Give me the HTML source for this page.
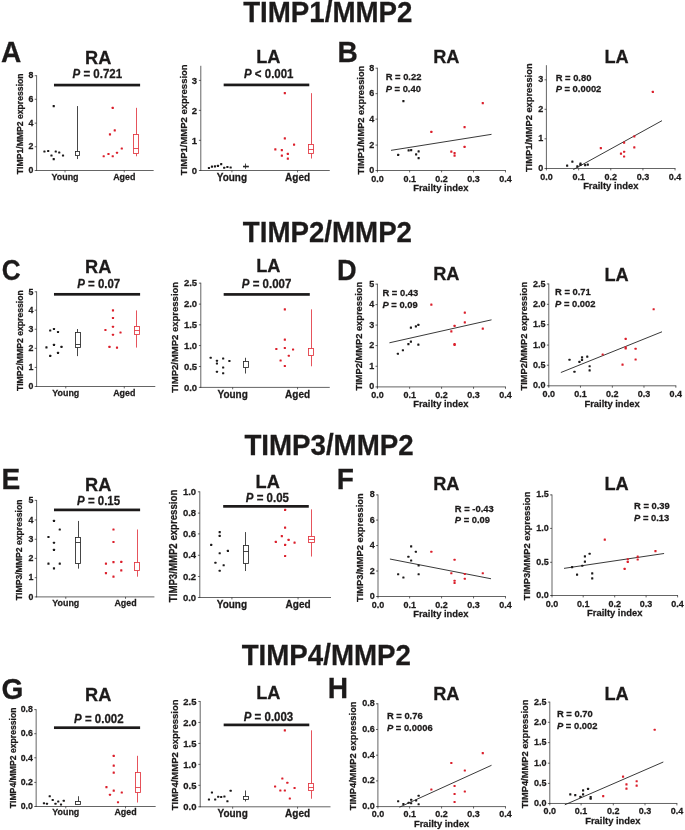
<!DOCTYPE html>
<html><head><meta charset="utf-8"><title>TIMP/MMP2 figure</title>
<style>
html,body{margin:0;padding:0;background:#fff;}
body{width:685px;height:830px;overflow:hidden;}
svg{display:block;font-family:"Liberation Sans",sans-serif;will-change:transform;}
text{font-weight:bold;stroke:#1c1a1a;stroke-width:0.26px;paint-order:stroke fill;}
</style></head><body>
<svg width="685" height="830" viewBox="0 0 685 830">
<rect width="685" height="830" fill="#ffffff"/>
<text transform="translate(327.8 21.9) scale(0.9615 1)" font-size="28.81" text-anchor="middle" fill="#1c1a1a">TIMP1/MMP2</text>
<text transform="translate(327.4 242.1) scale(0.9615 1)" font-size="28.81" text-anchor="middle" fill="#1c1a1a">TIMP2/MMP2</text>
<text transform="translate(329 454.9) scale(0.9615 1)" font-size="28.81" text-anchor="middle" fill="#1c1a1a">TIMP3/MMP2</text>
<text transform="translate(326.3 665.2) scale(0.9615 1)" font-size="28.81" text-anchor="middle" fill="#1c1a1a">TIMP4/MMP2</text>
<text transform="translate(0.9 62) scale(0.9615 1)" font-size="29.22" text-anchor="start" fill="#1c1a1a">A</text>
<text transform="translate(337.6 61.8) scale(0.9615 1)" font-size="29.22" text-anchor="start" fill="#1c1a1a">B</text>
<text transform="translate(1.7 279.8) scale(0.8950 1)" font-size="29.22" text-anchor="start" fill="#1c1a1a">C</text>
<text transform="translate(336.9 280.2) scale(0.9300 1)" font-size="29.22" text-anchor="start" fill="#1c1a1a">D</text>
<text transform="translate(1.5 489.1) scale(0.9615 1)" font-size="29.22" text-anchor="start" fill="#1c1a1a">E</text>
<text transform="translate(336.7 489.1) scale(0.9615 1)" font-size="29.22" text-anchor="start" fill="#1c1a1a">F</text>
<text transform="translate(1.4 698.8) scale(0.9615 1)" font-size="29.22" text-anchor="start" fill="#1c1a1a">G</text>
<text transform="translate(327.8 698) scale(0.9615 1)" font-size="29.22" text-anchor="start" fill="#1c1a1a">H</text>
<line x1="36.6" y1="75.29" x2="36.6" y2="170.9" stroke="#222222" stroke-width="0.7"/>
<line x1="34.7" y1="170.5" x2="36.6" y2="170.5" stroke="#222222" stroke-width="0.7"/>
<text transform="translate(33.4 173.23) scale(0.9615 1)" font-size="9.15" text-anchor="end" fill="#1c1a1a">0</text>
<line x1="34.7" y1="146.75" x2="36.6" y2="146.75" stroke="#222222" stroke-width="0.7"/>
<text transform="translate(33.4 149.47) scale(0.9615 1)" font-size="9.15" text-anchor="end" fill="#1c1a1a">2</text>
<line x1="34.7" y1="123.15" x2="36.6" y2="123.15" stroke="#222222" stroke-width="0.7"/>
<text transform="translate(33.4 125.87) scale(0.9615 1)" font-size="9.15" text-anchor="end" fill="#1c1a1a">4</text>
<line x1="34.7" y1="99.29" x2="36.6" y2="99.29" stroke="#222222" stroke-width="0.7"/>
<text transform="translate(33.4 102.02) scale(0.9615 1)" font-size="9.15" text-anchor="end" fill="#1c1a1a">6</text>
<line x1="34.7" y1="75.69" x2="36.6" y2="75.69" stroke="#222222" stroke-width="0.7"/>
<text transform="translate(33.4 78.42) scale(0.9615 1)" font-size="9.15" text-anchor="end" fill="#1c1a1a">8</text>
<line x1="36.2" y1="170.5" x2="153.65" y2="170.5" stroke="#222222" stroke-width="0.7"/>
<line x1="65.03" y1="170.5" x2="65.03" y2="172.4" stroke="#222222" stroke-width="0.7"/>
<line x1="124.28" y1="170.5" x2="124.28" y2="172.4" stroke="#222222" stroke-width="0.7"/>
<text transform="translate(65.03 179.64) scale(0.9615 1)" font-size="9.26" text-anchor="middle" fill="#1c1a1a">Young</text>
<text transform="translate(124.28 179.64) scale(0.9615 1)" font-size="9.26" text-anchor="middle" fill="#1c1a1a">Aged</text>
<text transform="translate(23.18 123.8) rotate(-90) scale(0.9615 1)" font-size="9" text-anchor="middle" fill="#1c1a1a">TIMP1/MMP2 expression</text>
<text transform="translate(98.17 63.89) scale(0.9615 1)" font-size="18.93" text-anchor="middle" fill="#1c1a1a">RA</text>
<text transform="translate(97.29 78.2) scale(0.9615 1)" font-size="11.96" text-anchor="middle" fill="#1c1a1a"><tspan font-style="italic">P</tspan> = 0.721</text>
<rect x="53.98" y="83.73" width="86.12" height="2.7" fill="#1c1a1a" stroke="none" stroke-width="0.8"/>
<rect x="43.36" y="150.44" width="2.16" height="2.16" rx="0.5" fill="#1c1a1a"/>
<rect x="47.12" y="149.93" width="2.16" height="2.16" rx="0.5" fill="#1c1a1a"/>
<rect x="52.65" y="104.99" width="2.16" height="2.16" rx="0.5" fill="#1c1a1a"/>
<rect x="50.39" y="154.45" width="2.16" height="2.16" rx="0.5" fill="#1c1a1a"/>
<rect x="52.65" y="157.97" width="2.16" height="2.16" rx="0.5" fill="#1c1a1a"/>
<rect x="54.66" y="150.44" width="2.16" height="2.16" rx="0.5" fill="#1c1a1a"/>
<rect x="58.17" y="151.44" width="2.16" height="2.16" rx="0.5" fill="#1c1a1a"/>
<rect x="61.94" y="154.45" width="2.16" height="2.16" rx="0.5" fill="#1c1a1a"/>
<rect x="102.61" y="155.21" width="2.16" height="2.16" rx="0.5" fill="#db1f2b"/>
<rect x="107.38" y="152.95" width="2.16" height="2.16" rx="0.5" fill="#db1f2b"/>
<rect x="111.65" y="155.21" width="2.16" height="2.16" rx="0.5" fill="#db1f2b"/>
<rect x="115.92" y="151.69" width="2.16" height="2.16" rx="0.5" fill="#db1f2b"/>
<rect x="120.69" y="147.42" width="2.16" height="2.16" rx="0.5" fill="#db1f2b"/>
<rect x="108.89" y="133.36" width="2.16" height="2.16" rx="0.5" fill="#db1f2b"/>
<rect x="113.66" y="129.35" width="2.16" height="2.16" rx="0.5" fill="#db1f2b"/>
<rect x="111.65" y="106.75" width="2.16" height="2.16" rx="0.5" fill="#db1f2b"/>
<line x1="77.5" y1="106.07" x2="77.5" y2="151.5" stroke="#262626" stroke-width="0.85"/>
<line x1="77.5" y1="155.5" x2="77.5" y2="159.05" stroke="#262626" stroke-width="0.85"/>
<rect x="75.5" y="151.5" width="4" height="4" fill="#fff" stroke="#262626" stroke-width="0.85"/>
<line x1="136.5" y1="107.83" x2="136.5" y2="134.5" stroke="#e2343e" stroke-width="0.85"/>
<line x1="136.5" y1="153.5" x2="136.5" y2="156.29" stroke="#e2343e" stroke-width="0.85"/>
<rect x="133.5" y="134.5" width="5" height="19" fill="#fff" stroke="#e2343e" stroke-width="0.85"/>
<line x1="133.5" y1="148.5" x2="138.5" y2="148.5" stroke="#e2343e" stroke-width="0.85"/>
<line x1="200.8" y1="65.8" x2="200.8" y2="170.9" stroke="#222222" stroke-width="0.7"/>
<line x1="198.9" y1="170.5" x2="200.8" y2="170.5" stroke="#222222" stroke-width="0.7"/>
<text transform="translate(197.1 173.68) scale(0.9615 1)" font-size="9.88" text-anchor="end" fill="#1c1a1a">0</text>
<line x1="198.9" y1="140.33" x2="200.8" y2="140.33" stroke="#222222" stroke-width="0.7"/>
<text transform="translate(197.1 143.52) scale(0.9615 1)" font-size="9.88" text-anchor="end" fill="#1c1a1a">1</text>
<line x1="198.9" y1="110.38" x2="200.8" y2="110.38" stroke="#222222" stroke-width="0.7"/>
<text transform="translate(197.1 113.56) scale(0.9615 1)" font-size="9.88" text-anchor="end" fill="#1c1a1a">2</text>
<line x1="198.9" y1="80.42" x2="200.8" y2="80.42" stroke="#222222" stroke-width="0.7"/>
<text transform="translate(197.1 83.61) scale(0.9615 1)" font-size="9.88" text-anchor="end" fill="#1c1a1a">3</text>
<line x1="200.4" y1="170.5" x2="329.76" y2="170.5" stroke="#222222" stroke-width="0.7"/>
<line x1="231.91" y1="170.5" x2="231.91" y2="172.4" stroke="#222222" stroke-width="0.7"/>
<line x1="297.56" y1="170.5" x2="297.56" y2="172.4" stroke="#222222" stroke-width="0.7"/>
<text transform="translate(231.91 181.02) scale(0.9615 1)" font-size="10.4" text-anchor="middle" fill="#1c1a1a">Young</text>
<text transform="translate(297.56 181.02) scale(0.9615 1)" font-size="10.4" text-anchor="middle" fill="#1c1a1a">Aged</text>
<text transform="translate(186.83 119.75) rotate(-90) scale(0.9615 1)" font-size="9.88" text-anchor="middle" fill="#1c1a1a">TIMP1/MMP2 expression</text>
<text transform="translate(268.36 63.2) scale(0.9615 1)" font-size="18.93" text-anchor="middle" fill="#1c1a1a">LA</text>
<text transform="translate(268.73 77.93) scale(0.9615 1)" font-size="11.96" text-anchor="middle" fill="#1c1a1a"><tspan font-style="italic">P</tspan> &lt; 0.001</text>
<rect x="223.67" y="83.57" width="85.62" height="2.7" fill="#1c1a1a" stroke="none" stroke-width="0.8"/>
<rect x="207.86" y="166.96" width="2.16" height="2.16" rx="0.5" fill="#1c1a1a"/>
<rect x="210.86" y="165.47" width="2.16" height="2.16" rx="0.5" fill="#1c1a1a"/>
<rect x="213.86" y="165.22" width="2.16" height="2.16" rx="0.5" fill="#1c1a1a"/>
<rect x="216.85" y="164.72" width="2.16" height="2.16" rx="0.5" fill="#1c1a1a"/>
<rect x="220.1" y="162.97" width="2.16" height="2.16" rx="0.5" fill="#1c1a1a"/>
<rect x="223.09" y="166.71" width="2.16" height="2.16" rx="0.5" fill="#1c1a1a"/>
<rect x="226.34" y="165.96" width="2.16" height="2.16" rx="0.5" fill="#1c1a1a"/>
<rect x="229.58" y="166.46" width="2.16" height="2.16" rx="0.5" fill="#1c1a1a"/>
<rect x="274.26" y="148.24" width="2.16" height="2.16" rx="0.5" fill="#db1f2b"/>
<rect x="280.76" y="148.99" width="2.16" height="2.16" rx="0.5" fill="#db1f2b"/>
<rect x="280.76" y="154.48" width="2.16" height="2.16" rx="0.5" fill="#db1f2b"/>
<rect x="286.75" y="152.73" width="2.16" height="2.16" rx="0.5" fill="#db1f2b"/>
<rect x="286.75" y="157.48" width="2.16" height="2.16" rx="0.5" fill="#db1f2b"/>
<rect x="283.75" y="137.26" width="2.16" height="2.16" rx="0.5" fill="#db1f2b"/>
<rect x="292.99" y="143.5" width="2.16" height="2.16" rx="0.5" fill="#db1f2b"/>
<rect x="283.75" y="92.08" width="2.16" height="2.16" rx="0.5" fill="#db1f2b"/>
<line x1="245.5" y1="163.55" x2="245.5" y2="166.17" stroke="#262626" stroke-width="0.85"/>
<line x1="245.5" y1="166.92" x2="245.5" y2="168.79" stroke="#262626" stroke-width="0.85"/>
<rect x="243.5" y="166.17" width="5" height="0.75" fill="#fff" stroke="#262626" stroke-width="0.85"/>
<line x1="311.5" y1="93.16" x2="311.5" y2="144.5" stroke="#e2343e" stroke-width="0.85"/>
<line x1="311.5" y1="153.5" x2="311.5" y2="158.56" stroke="#e2343e" stroke-width="0.85"/>
<rect x="308.5" y="144.5" width="5" height="9" fill="#fff" stroke="#e2343e" stroke-width="0.85"/>
<line x1="308.5" y1="149.5" x2="313.5" y2="149.5" stroke="#e2343e" stroke-width="0.85"/>
<line x1="377.4" y1="67.79" x2="377.4" y2="170.9" stroke="#222222" stroke-width="0.7"/>
<line x1="375.5" y1="170.5" x2="377.4" y2="170.5" stroke="#222222" stroke-width="0.7"/>
<text transform="translate(374.2 173.06) scale(0.9615 1)" font-size="9.36" text-anchor="end" fill="#1c1a1a">0</text>
<line x1="375.5" y1="145.08" x2="377.4" y2="145.08" stroke="#222222" stroke-width="0.7"/>
<text transform="translate(374.2 147.64) scale(0.9615 1)" font-size="9.36" text-anchor="end" fill="#1c1a1a">2</text>
<line x1="375.5" y1="119.12" x2="377.4" y2="119.12" stroke="#222222" stroke-width="0.7"/>
<text transform="translate(374.2 121.68) scale(0.9615 1)" font-size="9.36" text-anchor="end" fill="#1c1a1a">4</text>
<line x1="375.5" y1="93.65" x2="377.4" y2="93.65" stroke="#222222" stroke-width="0.7"/>
<text transform="translate(374.2 96.22) scale(0.9615 1)" font-size="9.36" text-anchor="end" fill="#1c1a1a">6</text>
<line x1="375.5" y1="68.19" x2="377.4" y2="68.19" stroke="#222222" stroke-width="0.7"/>
<text transform="translate(374.2 70.76) scale(0.9615 1)" font-size="9.36" text-anchor="end" fill="#1c1a1a">8</text>
<line x1="377" y1="170.5" x2="505.89" y2="170.5" stroke="#222222" stroke-width="0.7"/>
<line x1="377.4" y1="170.5" x2="377.4" y2="172.4" stroke="#222222" stroke-width="0.7"/>
<text transform="translate(377.4 181.67) scale(0.9615 1)" font-size="9.36" text-anchor="middle" fill="#1c1a1a">0.0</text>
<line x1="409.64" y1="170.5" x2="409.64" y2="172.4" stroke="#222222" stroke-width="0.7"/>
<text transform="translate(409.64 181.67) scale(0.9615 1)" font-size="9.36" text-anchor="middle" fill="#1c1a1a">0.1</text>
<line x1="441.59" y1="170.5" x2="441.59" y2="172.4" stroke="#222222" stroke-width="0.7"/>
<text transform="translate(441.59 181.67) scale(0.9615 1)" font-size="9.36" text-anchor="middle" fill="#1c1a1a">0.2</text>
<line x1="473.54" y1="170.5" x2="473.54" y2="172.4" stroke="#222222" stroke-width="0.7"/>
<text transform="translate(473.54 181.67) scale(0.9615 1)" font-size="9.36" text-anchor="middle" fill="#1c1a1a">0.3</text>
<line x1="505.49" y1="170.5" x2="505.49" y2="172.4" stroke="#222222" stroke-width="0.7"/>
<text transform="translate(505.49 181.67) scale(0.9615 1)" font-size="9.36" text-anchor="middle" fill="#1c1a1a">0.4</text>
<text transform="translate(440.84 191.01) scale(0.9615 1)" font-size="9.78" text-anchor="middle" fill="#1c1a1a">Frailty index</text>
<text transform="translate(363.51 120.05) rotate(-90) scale(0.9615 1)" font-size="9.69" text-anchor="middle" fill="#1c1a1a">TIMP1/MMP2 expression</text>
<text transform="translate(446.33 63.2) scale(0.9615 1)" font-size="18.93" text-anchor="middle" fill="#1c1a1a">RA</text>
<text transform="translate(385.67 80.08) scale(0.9615 1)" font-size="9.78" text-anchor="start" fill="#1c1a1a">R = 0.22</text>
<text transform="translate(385.67 92.01) scale(0.9615 1)" font-size="9.78" text-anchor="start" fill="#1c1a1a"><tspan font-style="italic">P</tspan> = 0.40</text>
<line x1="391" y1="150.35" x2="491.52" y2="134.34" stroke="#222" stroke-width="0.9"/>
<rect x="397.08" y="153.73" width="2.16" height="2.16" rx="0.5" fill="#1c1a1a"/>
<rect x="402.32" y="100.06" width="2.16" height="2.16" rx="0.5" fill="#1c1a1a"/>
<rect x="407.56" y="149.24" width="2.16" height="2.16" rx="0.5" fill="#1c1a1a"/>
<rect x="410.06" y="148.99" width="2.16" height="2.16" rx="0.5" fill="#1c1a1a"/>
<rect x="417.54" y="150.24" width="2.16" height="2.16" rx="0.5" fill="#1c1a1a"/>
<rect x="415.05" y="153.23" width="2.16" height="2.16" rx="0.5" fill="#1c1a1a"/>
<rect x="417.54" y="156.98" width="2.16" height="2.16" rx="0.5" fill="#1c1a1a"/>
<rect x="430.28" y="130.77" width="2.16" height="2.16" rx="0.5" fill="#db1f2b"/>
<rect x="450.25" y="150.49" width="2.16" height="2.16" rx="0.5" fill="#db1f2b"/>
<rect x="453.49" y="151.99" width="2.16" height="2.16" rx="0.5" fill="#db1f2b"/>
<rect x="453.49" y="154.48" width="2.16" height="2.16" rx="0.5" fill="#db1f2b"/>
<rect x="463.48" y="126.02" width="2.16" height="2.16" rx="0.5" fill="#db1f2b"/>
<rect x="463.48" y="145.74" width="2.16" height="2.16" rx="0.5" fill="#db1f2b"/>
<rect x="481.7" y="102.06" width="2.16" height="2.16" rx="0.5" fill="#db1f2b"/>
<line x1="546.4" y1="65.2" x2="546.4" y2="168.9" stroke="#222222" stroke-width="0.7"/>
<line x1="544.5" y1="168.5" x2="546.4" y2="168.5" stroke="#222222" stroke-width="0.7"/>
<text transform="translate(543.2 171.06) scale(0.9615 1)" font-size="9.36" text-anchor="end" fill="#1c1a1a">0</text>
<line x1="544.5" y1="138.8" x2="546.4" y2="138.8" stroke="#222222" stroke-width="0.7"/>
<text transform="translate(543.2 141.37) scale(0.9615 1)" font-size="9.36" text-anchor="end" fill="#1c1a1a">1</text>
<line x1="544.5" y1="109.3" x2="546.4" y2="109.3" stroke="#222222" stroke-width="0.7"/>
<text transform="translate(543.2 111.86) scale(0.9615 1)" font-size="9.36" text-anchor="end" fill="#1c1a1a">2</text>
<line x1="544.5" y1="79.8" x2="546.4" y2="79.8" stroke="#222222" stroke-width="0.7"/>
<text transform="translate(543.2 82.36) scale(0.9615 1)" font-size="9.36" text-anchor="end" fill="#1c1a1a">3</text>
<line x1="546" y1="168.5" x2="675.46" y2="168.5" stroke="#222222" stroke-width="0.7"/>
<line x1="546.4" y1="168.5" x2="546.4" y2="170.4" stroke="#222222" stroke-width="0.7"/>
<text transform="translate(546.4 179.86) scale(0.9615 1)" font-size="9.36" text-anchor="middle" fill="#1c1a1a">0.0</text>
<line x1="578.64" y1="168.5" x2="578.64" y2="170.4" stroke="#222222" stroke-width="0.7"/>
<text transform="translate(578.64 179.86) scale(0.9615 1)" font-size="9.36" text-anchor="middle" fill="#1c1a1a">0.1</text>
<line x1="610.78" y1="168.5" x2="610.78" y2="170.4" stroke="#222222" stroke-width="0.7"/>
<text transform="translate(610.78 179.86) scale(0.9615 1)" font-size="9.36" text-anchor="middle" fill="#1c1a1a">0.2</text>
<line x1="642.92" y1="168.5" x2="642.92" y2="170.4" stroke="#222222" stroke-width="0.7"/>
<text transform="translate(642.92 179.86) scale(0.9615 1)" font-size="9.36" text-anchor="middle" fill="#1c1a1a">0.3</text>
<line x1="675.06" y1="168.5" x2="675.06" y2="170.4" stroke="#222222" stroke-width="0.7"/>
<text transform="translate(675.06 179.86) scale(0.9615 1)" font-size="9.36" text-anchor="middle" fill="#1c1a1a">0.4</text>
<text transform="translate(610.78 189.39) scale(0.9615 1)" font-size="9.78" text-anchor="middle" fill="#1c1a1a">Frailty index</text>
<text transform="translate(531.79 117.75) rotate(-90) scale(0.9615 1)" font-size="9.69" text-anchor="middle" fill="#1c1a1a">TIMP1/MMP2 expression</text>
<text transform="translate(616.53 62.66) scale(0.9615 1)" font-size="18.93" text-anchor="middle" fill="#1c1a1a">LA</text>
<text transform="translate(555.65 80.57) scale(0.9615 1)" font-size="9.78" text-anchor="start" fill="#1c1a1a">R = 0.80</text>
<text transform="translate(555.65 92.39) scale(0.9615 1)" font-size="9.78" text-anchor="start" fill="#1c1a1a"><tspan font-style="italic">P</tspan> = 0.0002</text>
<line x1="573.3" y1="169.6" x2="662" y2="120.67" stroke="#222" stroke-width="0.9"/>
<rect x="566.06" y="164.54" width="2.16" height="2.16" rx="0.5" fill="#1c1a1a"/>
<rect x="571.29" y="160.62" width="2.16" height="2.16" rx="0.5" fill="#1c1a1a"/>
<rect x="576.26" y="165.32" width="2.16" height="2.16" rx="0.5" fill="#1c1a1a"/>
<rect x="579.39" y="162.44" width="2.16" height="2.16" rx="0.5" fill="#1c1a1a"/>
<rect x="579.39" y="163.75" width="2.16" height="2.16" rx="0.5" fill="#1c1a1a"/>
<rect x="584.09" y="164.01" width="2.16" height="2.16" rx="0.5" fill="#1c1a1a"/>
<rect x="586.71" y="163.49" width="2.16" height="2.16" rx="0.5" fill="#1c1a1a"/>
<rect x="599.77" y="147.03" width="2.16" height="2.16" rx="0.5" fill="#db1f2b"/>
<rect x="619.89" y="152.52" width="2.16" height="2.16" rx="0.5" fill="#db1f2b"/>
<rect x="623.03" y="141.54" width="2.16" height="2.16" rx="0.5" fill="#db1f2b"/>
<rect x="623.03" y="150.69" width="2.16" height="2.16" rx="0.5" fill="#db1f2b"/>
<rect x="623.03" y="155.39" width="2.16" height="2.16" rx="0.5" fill="#db1f2b"/>
<rect x="633.22" y="135.27" width="2.16" height="2.16" rx="0.5" fill="#db1f2b"/>
<rect x="633.22" y="146.24" width="2.16" height="2.16" rx="0.5" fill="#db1f2b"/>
<rect x="651.77" y="90.85" width="2.16" height="2.16" rx="0.5" fill="#db1f2b"/>
<line x1="36.6" y1="291.4" x2="36.6" y2="386.9" stroke="#222222" stroke-width="0.7"/>
<line x1="34.7" y1="386.5" x2="36.6" y2="386.5" stroke="#222222" stroke-width="0.7"/>
<text transform="translate(33.4 389.23) scale(0.9615 1)" font-size="9.15" text-anchor="end" fill="#1c1a1a">0</text>
<line x1="34.7" y1="367.42" x2="36.6" y2="367.42" stroke="#222222" stroke-width="0.7"/>
<text transform="translate(33.4 370.15) scale(0.9615 1)" font-size="9.15" text-anchor="end" fill="#1c1a1a">1</text>
<line x1="34.7" y1="348.34" x2="36.6" y2="348.34" stroke="#222222" stroke-width="0.7"/>
<text transform="translate(33.4 351.07) scale(0.9615 1)" font-size="9.15" text-anchor="end" fill="#1c1a1a">2</text>
<line x1="34.7" y1="329.26" x2="36.6" y2="329.26" stroke="#222222" stroke-width="0.7"/>
<text transform="translate(33.4 331.98) scale(0.9615 1)" font-size="9.15" text-anchor="end" fill="#1c1a1a">3</text>
<line x1="34.7" y1="310.18" x2="36.6" y2="310.18" stroke="#222222" stroke-width="0.7"/>
<text transform="translate(33.4 312.9) scale(0.9615 1)" font-size="9.15" text-anchor="end" fill="#1c1a1a">4</text>
<line x1="34.7" y1="291.8" x2="36.6" y2="291.8" stroke="#222222" stroke-width="0.7"/>
<text transform="translate(33.4 294.53) scale(0.9615 1)" font-size="9.15" text-anchor="end" fill="#1c1a1a">5</text>
<line x1="36.2" y1="386.5" x2="155.3" y2="386.5" stroke="#222222" stroke-width="0.7"/>
<line x1="65.78" y1="386.5" x2="65.78" y2="388.4" stroke="#222222" stroke-width="0.7"/>
<line x1="124.28" y1="386.5" x2="124.28" y2="388.4" stroke="#222222" stroke-width="0.7"/>
<text transform="translate(65.78 396.04) scale(0.9615 1)" font-size="9.26" text-anchor="middle" fill="#1c1a1a">Young</text>
<text transform="translate(124.28 396.04) scale(0.9615 1)" font-size="9.26" text-anchor="middle" fill="#1c1a1a">Aged</text>
<text transform="translate(23.18 340.65) rotate(-90) scale(0.9615 1)" font-size="9" text-anchor="middle" fill="#1c1a1a">TIMP2/MMP2 expression</text>
<text transform="translate(98.17 272.77) scale(0.9615 1)" font-size="18.93" text-anchor="middle" fill="#1c1a1a">RA</text>
<text transform="translate(98.69 288.13) scale(0.9615 1)" font-size="11.96" text-anchor="middle" fill="#1c1a1a"><tspan font-style="italic">P</tspan> = 0.07</text>
<rect x="53.98" y="292.96" width="86.12" height="2.7" fill="#1c1a1a" stroke="none" stroke-width="0.8"/>
<rect x="45.37" y="346.25" width="2.16" height="2.16" rx="0.5" fill="#1c1a1a"/>
<rect x="52.9" y="343.74" width="2.16" height="2.16" rx="0.5" fill="#1c1a1a"/>
<rect x="60.43" y="345.75" width="2.16" height="2.16" rx="0.5" fill="#1c1a1a"/>
<rect x="49.13" y="329.43" width="2.16" height="2.16" rx="0.5" fill="#1c1a1a"/>
<rect x="52.9" y="327.93" width="2.16" height="2.16" rx="0.5" fill="#1c1a1a"/>
<rect x="56.92" y="330.94" width="2.16" height="2.16" rx="0.5" fill="#1c1a1a"/>
<rect x="49.13" y="354.79" width="2.16" height="2.16" rx="0.5" fill="#1c1a1a"/>
<rect x="56.92" y="351.78" width="2.16" height="2.16" rx="0.5" fill="#1c1a1a"/>
<rect x="104.37" y="328.93" width="2.16" height="2.16" rx="0.5" fill="#db1f2b"/>
<rect x="111.9" y="325.67" width="2.16" height="2.16" rx="0.5" fill="#db1f2b"/>
<rect x="111.9" y="333.7" width="2.16" height="2.16" rx="0.5" fill="#db1f2b"/>
<rect x="119.43" y="331.44" width="2.16" height="2.16" rx="0.5" fill="#db1f2b"/>
<rect x="108.39" y="345.75" width="2.16" height="2.16" rx="0.5" fill="#db1f2b"/>
<rect x="115.92" y="346.5" width="2.16" height="2.16" rx="0.5" fill="#db1f2b"/>
<rect x="111.9" y="316.88" width="2.16" height="2.16" rx="0.5" fill="#db1f2b"/>
<rect x="111.9" y="309.35" width="2.16" height="2.16" rx="0.5" fill="#db1f2b"/>
<line x1="77.5" y1="329.01" x2="77.5" y2="332.5" stroke="#262626" stroke-width="0.85"/>
<line x1="77.5" y1="347.5" x2="77.5" y2="356.12" stroke="#262626" stroke-width="0.85"/>
<rect x="75.5" y="332.5" width="5" height="15" fill="#fff" stroke="#262626" stroke-width="0.85"/>
<line x1="75.5" y1="344.5" x2="80.5" y2="344.5" stroke="#262626" stroke-width="0.85"/>
<line x1="136.5" y1="310.43" x2="136.5" y2="326.5" stroke="#e2343e" stroke-width="0.85"/>
<line x1="136.5" y1="334.5" x2="136.5" y2="347.58" stroke="#e2343e" stroke-width="0.85"/>
<rect x="134.5" y="326.5" width="5" height="8" fill="#fff" stroke="#e2343e" stroke-width="0.85"/>
<line x1="134.5" y1="330.5" x2="139.5" y2="330.5" stroke="#e2343e" stroke-width="0.85"/>
<line x1="200.8" y1="282.74" x2="200.8" y2="387.8" stroke="#222222" stroke-width="0.7"/>
<line x1="198.9" y1="387.4" x2="200.8" y2="387.4" stroke="#222222" stroke-width="0.7"/>
<text transform="translate(197.1 390.58) scale(0.9615 1)" font-size="9.88" text-anchor="end" fill="#1c1a1a">0.0</text>
<line x1="198.9" y1="366.52" x2="200.8" y2="366.52" stroke="#222222" stroke-width="0.7"/>
<text transform="translate(197.1 369.7) scale(0.9615 1)" font-size="9.88" text-anchor="end" fill="#1c1a1a">0.5</text>
<line x1="198.9" y1="345.55" x2="200.8" y2="345.55" stroke="#222222" stroke-width="0.7"/>
<text transform="translate(197.1 348.73) scale(0.9615 1)" font-size="9.88" text-anchor="end" fill="#1c1a1a">1.0</text>
<line x1="198.9" y1="324.83" x2="200.8" y2="324.83" stroke="#222222" stroke-width="0.7"/>
<text transform="translate(197.1 328.01) scale(0.9615 1)" font-size="9.88" text-anchor="end" fill="#1c1a1a">1.5</text>
<line x1="198.9" y1="304.11" x2="200.8" y2="304.11" stroke="#222222" stroke-width="0.7"/>
<text transform="translate(197.1 307.29) scale(0.9615 1)" font-size="9.88" text-anchor="end" fill="#1c1a1a">2.0</text>
<line x1="198.9" y1="283.14" x2="200.8" y2="283.14" stroke="#222222" stroke-width="0.7"/>
<text transform="translate(197.1 286.32) scale(0.9615 1)" font-size="9.88" text-anchor="end" fill="#1c1a1a">2.5</text>
<line x1="200.4" y1="387.4" x2="329.76" y2="387.4" stroke="#222222" stroke-width="0.7"/>
<line x1="232.66" y1="387.4" x2="232.66" y2="389.3" stroke="#222222" stroke-width="0.7"/>
<line x1="297.56" y1="387.4" x2="297.56" y2="389.3" stroke="#222222" stroke-width="0.7"/>
<text transform="translate(232.66 397.72) scale(0.9615 1)" font-size="10.4" text-anchor="middle" fill="#1c1a1a">Young</text>
<text transform="translate(297.56 397.72) scale(0.9615 1)" font-size="10.4" text-anchor="middle" fill="#1c1a1a">Aged</text>
<text transform="translate(177.59 337.27) rotate(-90) scale(0.9615 1)" font-size="9.88" text-anchor="middle" fill="#1c1a1a">TIMP2/MMP2 expression</text>
<text transform="translate(268.36 271.91) scale(0.9615 1)" font-size="18.93" text-anchor="middle" fill="#1c1a1a">LA</text>
<text transform="translate(266.58 287.98) scale(0.9615 1)" font-size="11.96" text-anchor="middle" fill="#1c1a1a"><tspan font-style="italic">P</tspan> = 0.007</text>
<rect x="223.67" y="293.07" width="86.12" height="2.7" fill="#1c1a1a" stroke="none" stroke-width="0.8"/>
<rect x="209.61" y="356.7" width="2.16" height="2.16" rx="0.5" fill="#1c1a1a"/>
<rect x="215.85" y="359.69" width="2.16" height="2.16" rx="0.5" fill="#1c1a1a"/>
<rect x="215.85" y="362.44" width="2.16" height="2.16" rx="0.5" fill="#1c1a1a"/>
<rect x="222.09" y="357.45" width="2.16" height="2.16" rx="0.5" fill="#1c1a1a"/>
<rect x="228.33" y="359.94" width="2.16" height="2.16" rx="0.5" fill="#1c1a1a"/>
<rect x="222.09" y="366.43" width="2.16" height="2.16" rx="0.5" fill="#1c1a1a"/>
<rect x="215.85" y="370.68" width="2.16" height="2.16" rx="0.5" fill="#1c1a1a"/>
<rect x="222.09" y="372.18" width="2.16" height="2.16" rx="0.5" fill="#1c1a1a"/>
<rect x="275.26" y="347.96" width="2.16" height="2.16" rx="0.5" fill="#db1f2b"/>
<rect x="283.75" y="346.96" width="2.16" height="2.16" rx="0.5" fill="#db1f2b"/>
<rect x="291.99" y="348.46" width="2.16" height="2.16" rx="0.5" fill="#db1f2b"/>
<rect x="283.75" y="338.48" width="2.16" height="2.16" rx="0.5" fill="#db1f2b"/>
<rect x="287.74" y="354.7" width="2.16" height="2.16" rx="0.5" fill="#db1f2b"/>
<rect x="279.51" y="359.44" width="2.16" height="2.16" rx="0.5" fill="#db1f2b"/>
<rect x="283.75" y="364.94" width="2.16" height="2.16" rx="0.5" fill="#db1f2b"/>
<rect x="283.75" y="308.27" width="2.16" height="2.16" rx="0.5" fill="#db1f2b"/>
<line x1="245.5" y1="357.78" x2="245.5" y2="361.5" stroke="#262626" stroke-width="0.85"/>
<line x1="245.5" y1="367.5" x2="245.5" y2="373.5" stroke="#262626" stroke-width="0.85"/>
<rect x="243.5" y="361.5" width="5" height="6" fill="#fff" stroke="#262626" stroke-width="0.85"/>
<line x1="311.5" y1="309.35" x2="311.5" y2="348.5" stroke="#e2343e" stroke-width="0.85"/>
<line x1="311.5" y1="355.5" x2="311.5" y2="366.27" stroke="#e2343e" stroke-width="0.85"/>
<rect x="308.5" y="348.5" width="5" height="7" fill="#fff" stroke="#e2343e" stroke-width="0.85"/>
<line x1="377.4" y1="283.74" x2="377.4" y2="387.3" stroke="#222222" stroke-width="0.7"/>
<line x1="375.5" y1="386.9" x2="377.4" y2="386.9" stroke="#222222" stroke-width="0.7"/>
<text transform="translate(374.2 389.46) scale(0.9615 1)" font-size="9.36" text-anchor="end" fill="#1c1a1a">0</text>
<line x1="375.5" y1="366.27" x2="377.4" y2="366.27" stroke="#222222" stroke-width="0.7"/>
<text transform="translate(374.2 368.83) scale(0.9615 1)" font-size="9.36" text-anchor="end" fill="#1c1a1a">1</text>
<line x1="375.5" y1="345.55" x2="377.4" y2="345.55" stroke="#222222" stroke-width="0.7"/>
<text transform="translate(374.2 348.11) scale(0.9615 1)" font-size="9.36" text-anchor="end" fill="#1c1a1a">2</text>
<line x1="375.5" y1="325.08" x2="377.4" y2="325.08" stroke="#222222" stroke-width="0.7"/>
<text transform="translate(374.2 327.64) scale(0.9615 1)" font-size="9.36" text-anchor="end" fill="#1c1a1a">3</text>
<line x1="375.5" y1="304.61" x2="377.4" y2="304.61" stroke="#222222" stroke-width="0.7"/>
<text transform="translate(374.2 307.17) scale(0.9615 1)" font-size="9.36" text-anchor="end" fill="#1c1a1a">4</text>
<line x1="375.5" y1="284.14" x2="377.4" y2="284.14" stroke="#222222" stroke-width="0.7"/>
<text transform="translate(374.2 286.7) scale(0.9615 1)" font-size="9.36" text-anchor="end" fill="#1c1a1a">5</text>
<line x1="377" y1="386.9" x2="505.89" y2="386.9" stroke="#222222" stroke-width="0.7"/>
<line x1="377.4" y1="386.9" x2="377.4" y2="388.8" stroke="#222222" stroke-width="0.7"/>
<text transform="translate(377.4 398.12) scale(0.9615 1)" font-size="9.36" text-anchor="middle" fill="#1c1a1a">0.0</text>
<line x1="409.64" y1="386.9" x2="409.64" y2="388.8" stroke="#222222" stroke-width="0.7"/>
<text transform="translate(409.64 398.12) scale(0.9615 1)" font-size="9.36" text-anchor="middle" fill="#1c1a1a">0.1</text>
<line x1="441.59" y1="386.9" x2="441.59" y2="388.8" stroke="#222222" stroke-width="0.7"/>
<text transform="translate(441.59 398.12) scale(0.9615 1)" font-size="9.36" text-anchor="middle" fill="#1c1a1a">0.2</text>
<line x1="473.54" y1="386.9" x2="473.54" y2="388.8" stroke="#222222" stroke-width="0.7"/>
<text transform="translate(473.54 398.12) scale(0.9615 1)" font-size="9.36" text-anchor="middle" fill="#1c1a1a">0.3</text>
<line x1="505.49" y1="386.9" x2="505.49" y2="388.8" stroke="#222222" stroke-width="0.7"/>
<text transform="translate(505.49 398.12) scale(0.9615 1)" font-size="9.36" text-anchor="middle" fill="#1c1a1a">0.4</text>
<text transform="translate(440.84 407.2) scale(0.9615 1)" font-size="9.78" text-anchor="middle" fill="#1c1a1a">Frailty index</text>
<text transform="translate(362.31 336.22) rotate(-90) scale(0.9615 1)" font-size="9.69" text-anchor="middle" fill="#1c1a1a">TIMP2/MMP2 expression</text>
<text transform="translate(446.33 280.39) scale(0.9615 1)" font-size="18.93" text-anchor="middle" fill="#1c1a1a">RA</text>
<text transform="translate(382.43 295.97) scale(0.9615 1)" font-size="9.78" text-anchor="start" fill="#1c1a1a">R = 0.43</text>
<text transform="translate(382.43 307.7) scale(0.9615 1)" font-size="9.78" text-anchor="start" fill="#1c1a1a"><tspan font-style="italic">P</tspan> = 0.09</text>
<line x1="389.42" y1="342.8" x2="491.52" y2="319.84" stroke="#222" stroke-width="0.9"/>
<rect x="396.83" y="352.7" width="2.16" height="2.16" rx="0.5" fill="#1c1a1a"/>
<rect x="401.82" y="349.21" width="2.16" height="2.16" rx="0.5" fill="#1c1a1a"/>
<rect x="407.31" y="342.97" width="2.16" height="2.16" rx="0.5" fill="#1c1a1a"/>
<rect x="409.81" y="340.47" width="2.16" height="2.16" rx="0.5" fill="#1c1a1a"/>
<rect x="417.29" y="343.47" width="2.16" height="2.16" rx="0.5" fill="#1c1a1a"/>
<rect x="409.81" y="326.49" width="2.16" height="2.16" rx="0.5" fill="#1c1a1a"/>
<rect x="414.8" y="325.25" width="2.16" height="2.16" rx="0.5" fill="#1c1a1a"/>
<rect x="417.29" y="323.75" width="2.16" height="2.16" rx="0.5" fill="#1c1a1a"/>
<rect x="430.28" y="303.53" width="2.16" height="2.16" rx="0.5" fill="#db1f2b"/>
<rect x="450.25" y="330.24" width="2.16" height="2.16" rx="0.5" fill="#db1f2b"/>
<rect x="453.49" y="324.75" width="2.16" height="2.16" rx="0.5" fill="#db1f2b"/>
<rect x="453.49" y="342.97" width="2.16" height="2.16" rx="0.5" fill="#db1f2b"/>
<rect x="453.49" y="343.72" width="2.16" height="2.16" rx="0.5" fill="#db1f2b"/>
<rect x="463.73" y="311.52" width="2.16" height="2.16" rx="0.5" fill="#db1f2b"/>
<rect x="463.73" y="321.25" width="2.16" height="2.16" rx="0.5" fill="#db1f2b"/>
<rect x="481.7" y="327.49" width="2.16" height="2.16" rx="0.5" fill="#db1f2b"/>
<line x1="548.8" y1="283.55" x2="548.8" y2="386.2" stroke="#222222" stroke-width="0.7"/>
<line x1="546.9" y1="385.8" x2="548.8" y2="385.8" stroke="#222222" stroke-width="0.7"/>
<text transform="translate(545.6 388.37) scale(0.9615 1)" font-size="9.36" text-anchor="end" fill="#1c1a1a">0.0</text>
<line x1="546.9" y1="365.21" x2="548.8" y2="365.21" stroke="#222222" stroke-width="0.7"/>
<text transform="translate(545.6 367.78) scale(0.9615 1)" font-size="9.36" text-anchor="end" fill="#1c1a1a">0.5</text>
<line x1="546.9" y1="345.09" x2="548.8" y2="345.09" stroke="#222222" stroke-width="0.7"/>
<text transform="translate(545.6 347.66) scale(0.9615 1)" font-size="9.36" text-anchor="end" fill="#1c1a1a">1.0</text>
<line x1="546.9" y1="324.71" x2="548.8" y2="324.71" stroke="#222222" stroke-width="0.7"/>
<text transform="translate(545.6 327.28) scale(0.9615 1)" font-size="9.36" text-anchor="end" fill="#1c1a1a">1.5</text>
<line x1="546.9" y1="304.33" x2="548.8" y2="304.33" stroke="#222222" stroke-width="0.7"/>
<text transform="translate(545.6 306.89) scale(0.9615 1)" font-size="9.36" text-anchor="end" fill="#1c1a1a">2.0</text>
<line x1="546.9" y1="283.95" x2="548.8" y2="283.95" stroke="#222222" stroke-width="0.7"/>
<text transform="translate(545.6 286.51) scale(0.9615 1)" font-size="9.36" text-anchor="end" fill="#1c1a1a">2.5</text>
<line x1="548.4" y1="385.8" x2="676.25" y2="385.8" stroke="#222222" stroke-width="0.7"/>
<line x1="548.8" y1="385.8" x2="548.8" y2="387.7" stroke="#222222" stroke-width="0.7"/>
<text transform="translate(548.8 397.23) scale(0.9615 1)" font-size="9.36" text-anchor="middle" fill="#1c1a1a">0.0</text>
<line x1="580.47" y1="385.8" x2="580.47" y2="387.7" stroke="#222222" stroke-width="0.7"/>
<text transform="translate(580.47 397.23) scale(0.9615 1)" font-size="9.36" text-anchor="middle" fill="#1c1a1a">0.1</text>
<line x1="612.35" y1="385.8" x2="612.35" y2="387.7" stroke="#222222" stroke-width="0.7"/>
<text transform="translate(612.35 397.23) scale(0.9615 1)" font-size="9.36" text-anchor="middle" fill="#1c1a1a">0.2</text>
<line x1="643.97" y1="385.8" x2="643.97" y2="387.7" stroke="#222222" stroke-width="0.7"/>
<text transform="translate(643.97 397.23) scale(0.9615 1)" font-size="9.36" text-anchor="middle" fill="#1c1a1a">0.3</text>
<line x1="675.85" y1="385.8" x2="675.85" y2="387.7" stroke="#222222" stroke-width="0.7"/>
<text transform="translate(675.85 397.23) scale(0.9615 1)" font-size="9.36" text-anchor="middle" fill="#1c1a1a">0.4</text>
<text transform="translate(612.09 406.5) scale(0.9615 1)" font-size="9.78" text-anchor="middle" fill="#1c1a1a">Frailty index</text>
<text transform="translate(526.81 336.17) rotate(-90) scale(0.9615 1)" font-size="9.69" text-anchor="middle" fill="#1c1a1a">TIMP2/MMP2 expression</text>
<text transform="translate(616.53 280.55) scale(0.9615 1)" font-size="18.93" text-anchor="middle" fill="#1c1a1a">LA</text>
<text transform="translate(555.05 295.48) scale(0.9615 1)" font-size="9.78" text-anchor="start" fill="#1c1a1a">R = 0.71</text>
<text transform="translate(555.05 307.05) scale(0.9615 1)" font-size="9.78" text-anchor="start" fill="#1c1a1a"><tspan font-style="italic">P</tspan> = 0.002</text>
<line x1="560.87" y1="372.53" x2="662" y2="331.77" stroke="#222" stroke-width="0.9"/>
<rect x="568.42" y="358.65" width="2.16" height="2.16" rx="0.5" fill="#1c1a1a"/>
<rect x="573.38" y="370.67" width="2.16" height="2.16" rx="0.5" fill="#1c1a1a"/>
<rect x="578.35" y="360.74" width="2.16" height="2.16" rx="0.5" fill="#1c1a1a"/>
<rect x="580.96" y="356.29" width="2.16" height="2.16" rx="0.5" fill="#1c1a1a"/>
<rect x="580.96" y="358.91" width="2.16" height="2.16" rx="0.5" fill="#1c1a1a"/>
<rect x="586.18" y="355.51" width="2.16" height="2.16" rx="0.5" fill="#1c1a1a"/>
<rect x="588.54" y="365.18" width="2.16" height="2.16" rx="0.5" fill="#1c1a1a"/>
<rect x="588.54" y="369.36" width="2.16" height="2.16" rx="0.5" fill="#1c1a1a"/>
<rect x="601.6" y="353.42" width="2.16" height="2.16" rx="0.5" fill="#db1f2b"/>
<rect x="621.46" y="363.61" width="2.16" height="2.16" rx="0.5" fill="#db1f2b"/>
<rect x="624.6" y="337.74" width="2.16" height="2.16" rx="0.5" fill="#db1f2b"/>
<rect x="624.6" y="346.36" width="2.16" height="2.16" rx="0.5" fill="#db1f2b"/>
<rect x="624.6" y="347.41" width="2.16" height="2.16" rx="0.5" fill="#db1f2b"/>
<rect x="634.53" y="347.67" width="2.16" height="2.16" rx="0.5" fill="#db1f2b"/>
<rect x="634.53" y="358.38" width="2.16" height="2.16" rx="0.5" fill="#db1f2b"/>
<rect x="652.56" y="308.21" width="2.16" height="2.16" rx="0.5" fill="#db1f2b"/>
<line x1="36.6" y1="499.96" x2="36.6" y2="597.3" stroke="#222222" stroke-width="0.7"/>
<line x1="34.7" y1="596.9" x2="36.6" y2="596.9" stroke="#222222" stroke-width="0.7"/>
<text transform="translate(33.4 599.63) scale(0.9615 1)" font-size="9.15" text-anchor="end" fill="#1c1a1a">0</text>
<line x1="34.7" y1="577.69" x2="36.6" y2="577.69" stroke="#222222" stroke-width="0.7"/>
<text transform="translate(33.4 580.42) scale(0.9615 1)" font-size="9.15" text-anchor="end" fill="#1c1a1a">1</text>
<line x1="34.7" y1="558.36" x2="36.6" y2="558.36" stroke="#222222" stroke-width="0.7"/>
<text transform="translate(33.4 561.09) scale(0.9615 1)" font-size="9.15" text-anchor="end" fill="#1c1a1a">2</text>
<line x1="34.7" y1="539.28" x2="36.6" y2="539.28" stroke="#222222" stroke-width="0.7"/>
<text transform="translate(33.4 542.01) scale(0.9615 1)" font-size="9.15" text-anchor="end" fill="#1c1a1a">3</text>
<line x1="34.7" y1="519.95" x2="36.6" y2="519.95" stroke="#222222" stroke-width="0.7"/>
<text transform="translate(33.4 522.67) scale(0.9615 1)" font-size="9.15" text-anchor="end" fill="#1c1a1a">4</text>
<line x1="34.7" y1="500.36" x2="36.6" y2="500.36" stroke="#222222" stroke-width="0.7"/>
<text transform="translate(33.4 503.09) scale(0.9615 1)" font-size="9.15" text-anchor="end" fill="#1c1a1a">5</text>
<line x1="36.2" y1="596.9" x2="154.41" y2="596.9" stroke="#222222" stroke-width="0.7"/>
<line x1="65.78" y1="596.9" x2="65.78" y2="598.8" stroke="#222222" stroke-width="0.7"/>
<line x1="125.53" y1="596.9" x2="125.53" y2="598.8" stroke="#222222" stroke-width="0.7"/>
<text transform="translate(65.78 605.8) scale(0.9615 1)" font-size="9.26" text-anchor="middle" fill="#1c1a1a">Young</text>
<text transform="translate(125.53 605.8) scale(0.9615 1)" font-size="9.26" text-anchor="middle" fill="#1c1a1a">Aged</text>
<text transform="translate(22.18 549.83) rotate(-90) scale(0.9615 1)" font-size="9" text-anchor="middle" fill="#1c1a1a">TIMP3/MMP2 expression</text>
<text transform="translate(98.17 490.82) scale(0.9615 1)" font-size="18.93" text-anchor="middle" fill="#1c1a1a">RA</text>
<text transform="translate(98.59 505.28) scale(0.9615 1)" font-size="11.96" text-anchor="middle" fill="#1c1a1a"><tspan font-style="italic">P</tspan> = 0.15</text>
<rect x="53.98" y="508.55" width="86.12" height="2.7" fill="#1c1a1a" stroke="none" stroke-width="0.8"/>
<rect x="52.9" y="519.87" width="2.16" height="2.16" rx="0.5" fill="#1c1a1a"/>
<rect x="58.67" y="528.41" width="2.16" height="2.16" rx="0.5" fill="#1c1a1a"/>
<rect x="47.38" y="535.94" width="2.16" height="2.16" rx="0.5" fill="#1c1a1a"/>
<rect x="52.9" y="541.71" width="2.16" height="2.16" rx="0.5" fill="#1c1a1a"/>
<rect x="52.9" y="548.74" width="2.16" height="2.16" rx="0.5" fill="#1c1a1a"/>
<rect x="47.38" y="562.55" width="2.16" height="2.16" rx="0.5" fill="#1c1a1a"/>
<rect x="58.67" y="562.55" width="2.16" height="2.16" rx="0.5" fill="#1c1a1a"/>
<rect x="52.9" y="567.32" width="2.16" height="2.16" rx="0.5" fill="#1c1a1a"/>
<rect x="112.4" y="528.41" width="2.16" height="2.16" rx="0.5" fill="#db1f2b"/>
<rect x="112.4" y="540.96" width="2.16" height="2.16" rx="0.5" fill="#db1f2b"/>
<rect x="104.87" y="562.55" width="2.16" height="2.16" rx="0.5" fill="#db1f2b"/>
<rect x="112.4" y="561.05" width="2.16" height="2.16" rx="0.5" fill="#db1f2b"/>
<rect x="120.19" y="560.79" width="2.16" height="2.16" rx="0.5" fill="#db1f2b"/>
<rect x="104.87" y="572.09" width="2.16" height="2.16" rx="0.5" fill="#db1f2b"/>
<rect x="120.19" y="569.33" width="2.16" height="2.16" rx="0.5" fill="#db1f2b"/>
<rect x="112.4" y="575.61" width="2.16" height="2.16" rx="0.5" fill="#db1f2b"/>
<line x1="78.5" y1="520.95" x2="78.5" y2="537.5" stroke="#262626" stroke-width="0.85"/>
<line x1="78.5" y1="563.5" x2="78.5" y2="568.65" stroke="#262626" stroke-width="0.85"/>
<rect x="75.5" y="537.5" width="5" height="26" fill="#fff" stroke="#262626" stroke-width="0.85"/>
<line x1="75.5" y1="542.5" x2="80.5" y2="542.5" stroke="#262626" stroke-width="0.85"/>
<line x1="137.5" y1="529.49" x2="137.5" y2="562.5" stroke="#e2343e" stroke-width="0.85"/>
<line x1="137.5" y1="570.5" x2="137.5" y2="576.69" stroke="#e2343e" stroke-width="0.85"/>
<rect x="134.5" y="562.5" width="5" height="8" fill="#fff" stroke="#e2343e" stroke-width="0.85"/>
<line x1="199.8" y1="491.4" x2="199.8" y2="597.9" stroke="#222222" stroke-width="0.7"/>
<line x1="197.9" y1="597.5" x2="199.8" y2="597.5" stroke="#222222" stroke-width="0.7"/>
<text transform="translate(196.1 600.68) scale(0.9615 1)" font-size="9.88" text-anchor="end" fill="#1c1a1a">0.0</text>
<line x1="197.9" y1="576.5" x2="199.8" y2="576.5" stroke="#222222" stroke-width="0.7"/>
<text transform="translate(196.1 579.68) scale(0.9615 1)" font-size="9.88" text-anchor="end" fill="#1c1a1a">0.2</text>
<line x1="197.9" y1="555.3" x2="199.8" y2="555.3" stroke="#222222" stroke-width="0.7"/>
<text transform="translate(196.1 558.48) scale(0.9615 1)" font-size="9.88" text-anchor="end" fill="#1c1a1a">0.4</text>
<line x1="197.9" y1="533.9" x2="199.8" y2="533.9" stroke="#222222" stroke-width="0.7"/>
<text transform="translate(196.1 537.08) scale(0.9615 1)" font-size="9.88" text-anchor="end" fill="#1c1a1a">0.6</text>
<line x1="197.9" y1="513.1" x2="199.8" y2="513.1" stroke="#222222" stroke-width="0.7"/>
<text transform="translate(196.1 516.28) scale(0.9615 1)" font-size="9.88" text-anchor="end" fill="#1c1a1a">0.8</text>
<line x1="197.9" y1="491.8" x2="199.8" y2="491.8" stroke="#222222" stroke-width="0.7"/>
<text transform="translate(196.1 494.98) scale(0.9615 1)" font-size="9.88" text-anchor="end" fill="#1c1a1a">1.0</text>
<line x1="199.4" y1="597.5" x2="331.01" y2="597.5" stroke="#222222" stroke-width="0.7"/>
<line x1="231.91" y1="597.5" x2="231.91" y2="599.4" stroke="#222222" stroke-width="0.7"/>
<line x1="298.06" y1="597.5" x2="298.06" y2="599.4" stroke="#222222" stroke-width="0.7"/>
<text transform="translate(231.91 607.96) scale(0.9615 1)" font-size="10.4" text-anchor="middle" fill="#1c1a1a">Young</text>
<text transform="translate(298.06 607.96) scale(0.9615 1)" font-size="10.4" text-anchor="middle" fill="#1c1a1a">Aged</text>
<text transform="translate(177.19 545.95) rotate(-90) scale(0.9615 1)" font-size="10.04" text-anchor="middle" fill="#1c1a1a">TIMP3/MMP2 expression</text>
<text transform="translate(267.73 487.89) scale(0.9615 1)" font-size="18.93" text-anchor="middle" fill="#1c1a1a">LA</text>
<text transform="translate(267.36 501.62) scale(0.9615 1)" font-size="11.96" text-anchor="middle" fill="#1c1a1a"><tspan font-style="italic">P</tspan> = 0.05</text>
<rect x="223.17" y="505.01" width="85.62" height="2.7" fill="#1c1a1a" stroke="none" stroke-width="0.8"/>
<rect x="218.6" y="530.99" width="2.16" height="2.16" rx="0.5" fill="#1c1a1a"/>
<rect x="218.6" y="534.74" width="2.16" height="2.16" rx="0.5" fill="#1c1a1a"/>
<rect x="210.11" y="543.73" width="2.16" height="2.16" rx="0.5" fill="#1c1a1a"/>
<rect x="226.84" y="549.72" width="2.16" height="2.16" rx="0.5" fill="#1c1a1a"/>
<rect x="218.6" y="552.21" width="2.16" height="2.16" rx="0.5" fill="#1c1a1a"/>
<rect x="214.35" y="561.7" width="2.16" height="2.16" rx="0.5" fill="#1c1a1a"/>
<rect x="222.59" y="564.19" width="2.16" height="2.16" rx="0.5" fill="#1c1a1a"/>
<rect x="218.6" y="569.69" width="2.16" height="2.16" rx="0.5" fill="#1c1a1a"/>
<rect x="284" y="508.78" width="2.16" height="2.16" rx="0.5" fill="#db1f2b"/>
<rect x="284" y="526.5" width="2.16" height="2.16" rx="0.5" fill="#db1f2b"/>
<rect x="280.76" y="534.99" width="2.16" height="2.16" rx="0.5" fill="#db1f2b"/>
<rect x="287.5" y="538.73" width="2.16" height="2.16" rx="0.5" fill="#db1f2b"/>
<rect x="274.76" y="540.73" width="2.16" height="2.16" rx="0.5" fill="#db1f2b"/>
<rect x="293.49" y="541.48" width="2.16" height="2.16" rx="0.5" fill="#db1f2b"/>
<rect x="284" y="543.73" width="2.16" height="2.16" rx="0.5" fill="#db1f2b"/>
<rect x="284" y="554.96" width="2.16" height="2.16" rx="0.5" fill="#db1f2b"/>
<line x1="245.5" y1="532.07" x2="245.5" y2="545.5" stroke="#262626" stroke-width="0.85"/>
<line x1="245.5" y1="563.5" x2="245.5" y2="571.02" stroke="#262626" stroke-width="0.85"/>
<rect x="243.5" y="545.5" width="5" height="18" fill="#fff" stroke="#262626" stroke-width="0.85"/>
<line x1="243.5" y1="551.5" x2="248.5" y2="551.5" stroke="#262626" stroke-width="0.85"/>
<line x1="311.5" y1="509.36" x2="311.5" y2="536.5" stroke="#e2343e" stroke-width="0.85"/>
<line x1="311.5" y1="542.5" x2="311.5" y2="556.54" stroke="#e2343e" stroke-width="0.85"/>
<rect x="308.5" y="536.5" width="6" height="6" fill="#fff" stroke="#e2343e" stroke-width="0.85"/>
<line x1="308.5" y1="539.5" x2="314.5" y2="539.5" stroke="#e2343e" stroke-width="0.85"/>
<line x1="378" y1="494.48" x2="378" y2="596.9" stroke="#222222" stroke-width="0.7"/>
<line x1="376.1" y1="596.5" x2="378" y2="596.5" stroke="#222222" stroke-width="0.7"/>
<text transform="translate(374.8 599.07) scale(0.9615 1)" font-size="9.36" text-anchor="end" fill="#1c1a1a">0</text>
<line x1="376.1" y1="571.02" x2="378" y2="571.02" stroke="#222222" stroke-width="0.7"/>
<text transform="translate(374.8 573.58) scale(0.9615 1)" font-size="9.36" text-anchor="end" fill="#1c1a1a">2</text>
<line x1="376.1" y1="545.55" x2="378" y2="545.55" stroke="#222222" stroke-width="0.7"/>
<text transform="translate(374.8 548.12) scale(0.9615 1)" font-size="9.36" text-anchor="end" fill="#1c1a1a">4</text>
<line x1="376.1" y1="520.09" x2="378" y2="520.09" stroke="#222222" stroke-width="0.7"/>
<text transform="translate(374.8 522.66) scale(0.9615 1)" font-size="9.36" text-anchor="end" fill="#1c1a1a">6</text>
<line x1="376.1" y1="494.88" x2="378" y2="494.88" stroke="#222222" stroke-width="0.7"/>
<text transform="translate(374.8 497.45) scale(0.9615 1)" font-size="9.36" text-anchor="end" fill="#1c1a1a">8</text>
<line x1="377.6" y1="596.5" x2="505.89" y2="596.5" stroke="#222222" stroke-width="0.7"/>
<line x1="378" y1="596.5" x2="378" y2="598.4" stroke="#222222" stroke-width="0.7"/>
<text transform="translate(378 607.61) scale(0.9615 1)" font-size="9.36" text-anchor="middle" fill="#1c1a1a">0.0</text>
<line x1="409.64" y1="596.5" x2="409.64" y2="598.4" stroke="#222222" stroke-width="0.7"/>
<text transform="translate(409.64 607.61) scale(0.9615 1)" font-size="9.36" text-anchor="middle" fill="#1c1a1a">0.1</text>
<line x1="441.59" y1="596.5" x2="441.59" y2="598.4" stroke="#222222" stroke-width="0.7"/>
<text transform="translate(441.59 607.61) scale(0.9615 1)" font-size="9.36" text-anchor="middle" fill="#1c1a1a">0.2</text>
<line x1="473.54" y1="596.5" x2="473.54" y2="598.4" stroke="#222222" stroke-width="0.7"/>
<text transform="translate(473.54 607.61) scale(0.9615 1)" font-size="9.36" text-anchor="middle" fill="#1c1a1a">0.3</text>
<line x1="505.49" y1="596.5" x2="505.49" y2="598.4" stroke="#222222" stroke-width="0.7"/>
<text transform="translate(505.49 607.61) scale(0.9615 1)" font-size="9.36" text-anchor="middle" fill="#1c1a1a">0.4</text>
<text transform="translate(440.84 617.2) scale(0.9615 1)" font-size="9.78" text-anchor="middle" fill="#1c1a1a">Frailty index</text>
<text transform="translate(362.81 547.69) rotate(-90) scale(0.9615 1)" font-size="9.69" text-anchor="middle" fill="#1c1a1a">TIMP3/MMP2 expression</text>
<text transform="translate(446.33 489.89) scale(0.9615 1)" font-size="18.93" text-anchor="middle" fill="#1c1a1a">RA</text>
<text transform="translate(454.82 512.1) scale(0.9615 1)" font-size="9.78" text-anchor="start" fill="#1c1a1a">R = -0.43</text>
<text transform="translate(454.82 523.14) scale(0.9615 1)" font-size="9.78" text-anchor="start" fill="#1c1a1a"><tspan font-style="italic">P</tspan> = 0.09</text>
<line x1="389.92" y1="559.03" x2="491.02" y2="578.75" stroke="#222" stroke-width="0.9"/>
<rect x="410.06" y="545.22" width="2.16" height="2.16" rx="0.5" fill="#1c1a1a"/>
<rect x="414.8" y="550.71" width="2.16" height="2.16" rx="0.5" fill="#1c1a1a"/>
<rect x="407.31" y="555.71" width="2.16" height="2.16" rx="0.5" fill="#1c1a1a"/>
<rect x="410.06" y="559.45" width="2.16" height="2.16" rx="0.5" fill="#1c1a1a"/>
<rect x="417.54" y="564.44" width="2.16" height="2.16" rx="0.5" fill="#1c1a1a"/>
<rect x="397.08" y="573.18" width="2.16" height="2.16" rx="0.5" fill="#1c1a1a"/>
<rect x="402.32" y="576.43" width="2.16" height="2.16" rx="0.5" fill="#1c1a1a"/>
<rect x="417.54" y="573.18" width="2.16" height="2.16" rx="0.5" fill="#1c1a1a"/>
<rect x="430.28" y="550.71" width="2.16" height="2.16" rx="0.5" fill="#db1f2b"/>
<rect x="453.49" y="558.7" width="2.16" height="2.16" rx="0.5" fill="#db1f2b"/>
<rect x="450.25" y="572.18" width="2.16" height="2.16" rx="0.5" fill="#db1f2b"/>
<rect x="463.73" y="572.93" width="2.16" height="2.16" rx="0.5" fill="#db1f2b"/>
<rect x="481.7" y="572.18" width="2.16" height="2.16" rx="0.5" fill="#db1f2b"/>
<rect x="463.73" y="577.67" width="2.16" height="2.16" rx="0.5" fill="#db1f2b"/>
<rect x="453.49" y="579.67" width="2.16" height="2.16" rx="0.5" fill="#db1f2b"/>
<rect x="453.49" y="581.92" width="2.16" height="2.16" rx="0.5" fill="#db1f2b"/>
<line x1="552" y1="494.5" x2="552" y2="595.9" stroke="#222222" stroke-width="0.7"/>
<line x1="550.1" y1="595.5" x2="552" y2="595.5" stroke="#222222" stroke-width="0.7"/>
<text transform="translate(548.8 598.07) scale(0.9615 1)" font-size="9.36" text-anchor="end" fill="#1c1a1a">0.0</text>
<line x1="550.1" y1="562.3" x2="552" y2="562.3" stroke="#222222" stroke-width="0.7"/>
<text transform="translate(548.8 564.87) scale(0.9615 1)" font-size="9.36" text-anchor="end" fill="#1c1a1a">0.5</text>
<line x1="550.1" y1="528.4" x2="552" y2="528.4" stroke="#222222" stroke-width="0.7"/>
<text transform="translate(548.8 530.97) scale(0.9615 1)" font-size="9.36" text-anchor="end" fill="#1c1a1a">1.0</text>
<line x1="550.1" y1="494.9" x2="552" y2="494.9" stroke="#222222" stroke-width="0.7"/>
<text transform="translate(548.8 497.46) scale(0.9615 1)" font-size="9.36" text-anchor="end" fill="#1c1a1a">1.5</text>
<line x1="551.6" y1="595.5" x2="678" y2="595.5" stroke="#222222" stroke-width="0.7"/>
<line x1="552" y1="595.5" x2="552" y2="597.4" stroke="#222222" stroke-width="0.7"/>
<text transform="translate(552 606.7) scale(0.9615 1)" font-size="9.36" text-anchor="middle" fill="#1c1a1a">0.0</text>
<line x1="583.2" y1="595.5" x2="583.2" y2="597.4" stroke="#222222" stroke-width="0.7"/>
<text transform="translate(583.2 606.7) scale(0.9615 1)" font-size="9.36" text-anchor="middle" fill="#1c1a1a">0.1</text>
<line x1="614.7" y1="595.5" x2="614.7" y2="597.4" stroke="#222222" stroke-width="0.7"/>
<text transform="translate(614.7 606.7) scale(0.9615 1)" font-size="9.36" text-anchor="middle" fill="#1c1a1a">0.2</text>
<line x1="646.1" y1="595.5" x2="646.1" y2="597.4" stroke="#222222" stroke-width="0.7"/>
<text transform="translate(646.1 606.7) scale(0.9615 1)" font-size="9.36" text-anchor="middle" fill="#1c1a1a">0.3</text>
<line x1="677.6" y1="595.5" x2="677.6" y2="597.4" stroke="#222222" stroke-width="0.7"/>
<text transform="translate(677.6 606.7) scale(0.9615 1)" font-size="9.36" text-anchor="middle" fill="#1c1a1a">0.4</text>
<text transform="translate(614.7 615.68) scale(0.9615 1)" font-size="9.78" text-anchor="middle" fill="#1c1a1a">Frailty index</text>
<text transform="translate(530.48 545.9) rotate(-90) scale(0.9615 1)" font-size="9.69" text-anchor="middle" fill="#1c1a1a">TIMP3/MMP2 expression</text>
<text transform="translate(616.53 489.99) scale(0.9615 1)" font-size="18.93" text-anchor="middle" fill="#1c1a1a">LA</text>
<text transform="translate(634.04 509.17) scale(0.9615 1)" font-size="9.78" text-anchor="start" fill="#1c1a1a">R = 0.39</text>
<text transform="translate(634.04 520.93) scale(0.9615 1)" font-size="9.78" text-anchor="start" fill="#1c1a1a"><tspan font-style="italic">P</tspan> = 0.13</text>
<line x1="564.01" y1="568.38" x2="664.09" y2="553.49" stroke="#222" stroke-width="0.9"/>
<rect x="571.03" y="566" width="2.16" height="2.16" rx="0.5" fill="#1c1a1a"/>
<rect x="575.99" y="573.58" width="2.16" height="2.16" rx="0.5" fill="#1c1a1a"/>
<rect x="581.22" y="564.69" width="2.16" height="2.16" rx="0.5" fill="#1c1a1a"/>
<rect x="583.83" y="560.51" width="2.16" height="2.16" rx="0.5" fill="#1c1a1a"/>
<rect x="583.83" y="555.28" width="2.16" height="2.16" rx="0.5" fill="#1c1a1a"/>
<rect x="588.54" y="552.67" width="2.16" height="2.16" rx="0.5" fill="#1c1a1a"/>
<rect x="591.15" y="572.27" width="2.16" height="2.16" rx="0.5" fill="#1c1a1a"/>
<rect x="591.15" y="577.23" width="2.16" height="2.16" rx="0.5" fill="#1c1a1a"/>
<rect x="603.69" y="538.56" width="2.16" height="2.16" rx="0.5" fill="#db1f2b"/>
<rect x="623.55" y="567.83" width="2.16" height="2.16" rx="0.5" fill="#db1f2b"/>
<rect x="626.69" y="558.16" width="2.16" height="2.16" rx="0.5" fill="#db1f2b"/>
<rect x="626.69" y="560.77" width="2.16" height="2.16" rx="0.5" fill="#db1f2b"/>
<rect x="636.62" y="555.55" width="2.16" height="2.16" rx="0.5" fill="#db1f2b"/>
<rect x="636.62" y="558.42" width="2.16" height="2.16" rx="0.5" fill="#db1f2b"/>
<rect x="654.38" y="550.06" width="2.16" height="2.16" rx="0.5" fill="#db1f2b"/>
<line x1="36.15" y1="709.21" x2="36.15" y2="806.9" stroke="#222222" stroke-width="0.7"/>
<line x1="34.25" y1="806.5" x2="36.15" y2="806.5" stroke="#222222" stroke-width="0.7"/>
<text transform="translate(32.95 809.23) scale(0.9615 1)" font-size="9.15" text-anchor="end" fill="#1c1a1a">0.0</text>
<line x1="34.25" y1="782.42" x2="36.15" y2="782.42" stroke="#222222" stroke-width="0.7"/>
<text transform="translate(32.95 785.15) scale(0.9615 1)" font-size="9.15" text-anchor="end" fill="#1c1a1a">0.2</text>
<line x1="34.25" y1="757.81" x2="36.15" y2="757.81" stroke="#222222" stroke-width="0.7"/>
<text transform="translate(32.95 760.54) scale(0.9615 1)" font-size="9.15" text-anchor="end" fill="#1c1a1a">0.4</text>
<line x1="34.25" y1="733.71" x2="36.15" y2="733.71" stroke="#222222" stroke-width="0.7"/>
<text transform="translate(32.95 736.44) scale(0.9615 1)" font-size="9.15" text-anchor="end" fill="#1c1a1a">0.6</text>
<line x1="34.25" y1="709.61" x2="36.15" y2="709.61" stroke="#222222" stroke-width="0.7"/>
<text transform="translate(32.95 712.34) scale(0.9615 1)" font-size="9.15" text-anchor="end" fill="#1c1a1a">0.8</text>
<line x1="35.75" y1="806.5" x2="155.66" y2="806.5" stroke="#222222" stroke-width="0.7"/>
<line x1="65.78" y1="806.5" x2="65.78" y2="808.4" stroke="#222222" stroke-width="0.7"/>
<line x1="125.53" y1="806.5" x2="125.53" y2="808.4" stroke="#222222" stroke-width="0.7"/>
<text transform="translate(65.78 815.31) scale(0.9615 1)" font-size="9.26" text-anchor="middle" fill="#1c1a1a">Young</text>
<text transform="translate(125.53 815.31) scale(0.9615 1)" font-size="9.26" text-anchor="middle" fill="#1c1a1a">Aged</text>
<text transform="translate(16.4 757.85) rotate(-90) scale(0.9615 1)" font-size="9" text-anchor="middle" fill="#1c1a1a">TIMP4/MMP2 expression</text>
<text transform="translate(98.17 700.82) scale(0.9615 1)" font-size="18.93" text-anchor="middle" fill="#1c1a1a">RA</text>
<text transform="translate(98.79 723.42) scale(0.9615 1)" font-size="11.96" text-anchor="middle" fill="#1c1a1a"><tspan font-style="italic">P</tspan> = 0.002</text>
<rect x="53.98" y="726.34" width="86.12" height="2.7" fill="#1c1a1a" stroke="none" stroke-width="0.8"/>
<rect x="42.86" y="802.18" width="2.16" height="2.16" rx="0.5" fill="#1c1a1a"/>
<rect x="45.87" y="802.68" width="2.16" height="2.16" rx="0.5" fill="#1c1a1a"/>
<rect x="48.63" y="795.15" width="2.16" height="2.16" rx="0.5" fill="#1c1a1a"/>
<rect x="51.64" y="798.91" width="2.16" height="2.16" rx="0.5" fill="#1c1a1a"/>
<rect x="54.41" y="802.68" width="2.16" height="2.16" rx="0.5" fill="#1c1a1a"/>
<rect x="57.17" y="800.42" width="2.16" height="2.16" rx="0.5" fill="#1c1a1a"/>
<rect x="59.93" y="803.43" width="2.16" height="2.16" rx="0.5" fill="#1c1a1a"/>
<rect x="62.69" y="799.67" width="2.16" height="2.16" rx="0.5" fill="#1c1a1a"/>
<rect x="105.37" y="786.11" width="2.16" height="2.16" rx="0.5" fill="#db1f2b"/>
<rect x="108.89" y="793.64" width="2.16" height="2.16" rx="0.5" fill="#db1f2b"/>
<rect x="112.65" y="789.62" width="2.16" height="2.16" rx="0.5" fill="#db1f2b"/>
<rect x="120.69" y="791.38" width="2.16" height="2.16" rx="0.5" fill="#db1f2b"/>
<rect x="116.92" y="801.17" width="2.16" height="2.16" rx="0.5" fill="#db1f2b"/>
<rect x="112.65" y="771.55" width="2.16" height="2.16" rx="0.5" fill="#db1f2b"/>
<rect x="112.65" y="764.52" width="2.16" height="2.16" rx="0.5" fill="#db1f2b"/>
<rect x="112.65" y="754.73" width="2.16" height="2.16" rx="0.5" fill="#db1f2b"/>
<line x1="78.5" y1="796.23" x2="78.5" y2="801.5" stroke="#262626" stroke-width="0.85"/>
<line x1="78.5" y1="804.5" x2="78.5" y2="804.51" stroke="#262626" stroke-width="0.85"/>
<rect x="75.5" y="801.5" width="5" height="3" fill="#fff" stroke="#262626" stroke-width="0.85"/>
<line x1="137.5" y1="755.81" x2="137.5" y2="772.5" stroke="#e2343e" stroke-width="0.85"/>
<line x1="137.5" y1="792.5" x2="137.5" y2="802.5" stroke="#e2343e" stroke-width="0.85"/>
<rect x="135.5" y="772.5" width="5" height="20" fill="#fff" stroke="#e2343e" stroke-width="0.85"/>
<line x1="135.5" y1="787.5" x2="140.5" y2="787.5" stroke="#e2343e" stroke-width="0.85"/>
<line x1="200.2" y1="701.05" x2="200.2" y2="807.2" stroke="#222222" stroke-width="0.7"/>
<line x1="198.3" y1="806.8" x2="200.2" y2="806.8" stroke="#222222" stroke-width="0.7"/>
<text transform="translate(196.5 809.98) scale(0.9615 1)" font-size="9.88" text-anchor="end" fill="#1c1a1a">0.0</text>
<line x1="198.3" y1="785.35" x2="200.2" y2="785.35" stroke="#222222" stroke-width="0.7"/>
<text transform="translate(196.5 788.53) scale(0.9615 1)" font-size="9.88" text-anchor="end" fill="#1c1a1a">0.5</text>
<line x1="198.3" y1="764.35" x2="200.2" y2="764.35" stroke="#222222" stroke-width="0.7"/>
<text transform="translate(196.5 767.53) scale(0.9615 1)" font-size="9.88" text-anchor="end" fill="#1c1a1a">1.0</text>
<line x1="198.3" y1="743.45" x2="200.2" y2="743.45" stroke="#222222" stroke-width="0.7"/>
<text transform="translate(196.5 746.63) scale(0.9615 1)" font-size="9.88" text-anchor="end" fill="#1c1a1a">1.5</text>
<line x1="198.3" y1="722.45" x2="200.2" y2="722.45" stroke="#222222" stroke-width="0.7"/>
<text transform="translate(196.5 725.63) scale(0.9615 1)" font-size="9.88" text-anchor="end" fill="#1c1a1a">2.0</text>
<line x1="198.3" y1="701.45" x2="200.2" y2="701.45" stroke="#222222" stroke-width="0.7"/>
<text transform="translate(196.5 704.63) scale(0.9615 1)" font-size="9.88" text-anchor="end" fill="#1c1a1a">2.5</text>
<line x1="199.8" y1="806.8" x2="330.51" y2="806.8" stroke="#222222" stroke-width="0.7"/>
<line x1="232.66" y1="806.8" x2="232.66" y2="808.7" stroke="#222222" stroke-width="0.7"/>
<line x1="297.56" y1="806.8" x2="297.56" y2="808.7" stroke="#222222" stroke-width="0.7"/>
<text transform="translate(232.66 817.3) scale(0.9615 1)" font-size="10.4" text-anchor="middle" fill="#1c1a1a">Young</text>
<text transform="translate(297.56 817.3) scale(0.9615 1)" font-size="10.4" text-anchor="middle" fill="#1c1a1a">Aged</text>
<text transform="translate(177.89 754.83) rotate(-90) scale(0.9615 1)" font-size="9.88" text-anchor="middle" fill="#1c1a1a">TIMP4/MMP2 expression</text>
<text transform="translate(268.36 699.24) scale(0.9615 1)" font-size="18.93" text-anchor="middle" fill="#1c1a1a">LA</text>
<text transform="translate(268.48 720.86) scale(0.9615 1)" font-size="11.96" text-anchor="middle" fill="#1c1a1a"><tspan font-style="italic">P</tspan> = 0.003</text>
<rect x="223.67" y="723.55" width="85.62" height="2.7" fill="#1c1a1a" stroke="none" stroke-width="0.8"/>
<rect x="207.86" y="798.41" width="2.16" height="2.16" rx="0.5" fill="#1c1a1a"/>
<rect x="210.86" y="791.42" width="2.16" height="2.16" rx="0.5" fill="#1c1a1a"/>
<rect x="214.11" y="798.41" width="2.16" height="2.16" rx="0.5" fill="#1c1a1a"/>
<rect x="217.1" y="795.66" width="2.16" height="2.16" rx="0.5" fill="#1c1a1a"/>
<rect x="220.1" y="795.91" width="2.16" height="2.16" rx="0.5" fill="#1c1a1a"/>
<rect x="223.34" y="795.41" width="2.16" height="2.16" rx="0.5" fill="#1c1a1a"/>
<rect x="226.34" y="800.16" width="2.16" height="2.16" rx="0.5" fill="#1c1a1a"/>
<rect x="229.58" y="789.67" width="2.16" height="2.16" rx="0.5" fill="#1c1a1a"/>
<rect x="274.02" y="785.43" width="2.16" height="2.16" rx="0.5" fill="#db1f2b"/>
<rect x="279.26" y="789.42" width="2.16" height="2.16" rx="0.5" fill="#db1f2b"/>
<rect x="283.75" y="789.42" width="2.16" height="2.16" rx="0.5" fill="#db1f2b"/>
<rect x="281.25" y="777.44" width="2.16" height="2.16" rx="0.5" fill="#db1f2b"/>
<rect x="286.25" y="781.68" width="2.16" height="2.16" rx="0.5" fill="#db1f2b"/>
<rect x="293.49" y="786.93" width="2.16" height="2.16" rx="0.5" fill="#db1f2b"/>
<rect x="288.74" y="797.41" width="2.16" height="2.16" rx="0.5" fill="#db1f2b"/>
<rect x="283.75" y="729.26" width="2.16" height="2.16" rx="0.5" fill="#db1f2b"/>
<line x1="245.5" y1="790.5" x2="245.5" y2="796.5" stroke="#262626" stroke-width="0.85"/>
<line x1="245.5" y1="799.5" x2="245.5" y2="801.49" stroke="#262626" stroke-width="0.85"/>
<rect x="243.5" y="796.5" width="5" height="3" fill="#fff" stroke="#262626" stroke-width="0.85"/>
<line x1="311.5" y1="730.34" x2="311.5" y2="783.5" stroke="#e2343e" stroke-width="0.85"/>
<line x1="311.5" y1="790.5" x2="311.5" y2="798.74" stroke="#e2343e" stroke-width="0.85"/>
<rect x="308.5" y="783.5" width="5" height="7" fill="#fff" stroke="#e2343e" stroke-width="0.85"/>
<line x1="308.5" y1="787.5" x2="313.5" y2="787.5" stroke="#e2343e" stroke-width="0.85"/>
<line x1="377.9" y1="703.23" x2="377.9" y2="807" stroke="#222222" stroke-width="0.7"/>
<line x1="376" y1="806.6" x2="377.9" y2="806.6" stroke="#222222" stroke-width="0.7"/>
<text transform="translate(374.7 809.17) scale(0.9615 1)" font-size="9.36" text-anchor="end" fill="#1c1a1a">0.0</text>
<line x1="376" y1="780.9" x2="377.9" y2="780.9" stroke="#222222" stroke-width="0.7"/>
<text transform="translate(374.7 783.47) scale(0.9615 1)" font-size="9.36" text-anchor="end" fill="#1c1a1a">0.2</text>
<line x1="376" y1="755.2" x2="377.9" y2="755.2" stroke="#222222" stroke-width="0.7"/>
<text transform="translate(374.7 757.77) scale(0.9615 1)" font-size="9.36" text-anchor="end" fill="#1c1a1a">0.4</text>
<line x1="376" y1="729.5" x2="377.9" y2="729.5" stroke="#222222" stroke-width="0.7"/>
<text transform="translate(374.7 732.07) scale(0.9615 1)" font-size="9.36" text-anchor="end" fill="#1c1a1a">0.6</text>
<line x1="376" y1="703.8" x2="377.9" y2="703.8" stroke="#222222" stroke-width="0.7"/>
<text transform="translate(374.7 706.37) scale(0.9615 1)" font-size="9.36" text-anchor="end" fill="#1c1a1a">0.8</text>
<line x1="377.5" y1="806.6" x2="505.89" y2="806.6" stroke="#222222" stroke-width="0.7"/>
<line x1="377.9" y1="806.6" x2="377.9" y2="808.5" stroke="#222222" stroke-width="0.7"/>
<text transform="translate(377.9 817.1) scale(0.9615 1)" font-size="9.36" text-anchor="middle" fill="#1c1a1a">0.0</text>
<line x1="409.64" y1="806.6" x2="409.64" y2="808.5" stroke="#222222" stroke-width="0.7"/>
<text transform="translate(409.64 817.1) scale(0.9615 1)" font-size="9.36" text-anchor="middle" fill="#1c1a1a">0.1</text>
<line x1="441.59" y1="806.6" x2="441.59" y2="808.5" stroke="#222222" stroke-width="0.7"/>
<text transform="translate(441.59 817.1) scale(0.9615 1)" font-size="9.36" text-anchor="middle" fill="#1c1a1a">0.2</text>
<line x1="473.54" y1="806.6" x2="473.54" y2="808.5" stroke="#222222" stroke-width="0.7"/>
<text transform="translate(473.54 817.1) scale(0.9615 1)" font-size="9.36" text-anchor="middle" fill="#1c1a1a">0.3</text>
<line x1="505.49" y1="806.6" x2="505.49" y2="808.5" stroke="#222222" stroke-width="0.7"/>
<text transform="translate(505.49 817.1) scale(0.9615 1)" font-size="9.36" text-anchor="middle" fill="#1c1a1a">0.4</text>
<text transform="translate(441.59 826.6) scale(0.9615 1)" font-size="9.78" text-anchor="middle" fill="#1c1a1a">Frailty index</text>
<text transform="translate(356.12 755.82) rotate(-90) scale(0.9615 1)" font-size="9.69" text-anchor="middle" fill="#1c1a1a">TIMP4/MMP2 expression</text>
<text transform="translate(446.33 699.99) scale(0.9615 1)" font-size="18.93" text-anchor="middle" fill="#1c1a1a">RA</text>
<text transform="translate(386.92 719.46) scale(0.9615 1)" font-size="9.78" text-anchor="start" fill="#1c1a1a">R = 0.76</text>
<text transform="translate(386.92 730.84) scale(0.9615 1)" font-size="9.78" text-anchor="start" fill="#1c1a1a"><tspan font-style="italic">P</tspan> = 0.0006</text>
<line x1="399.4" y1="807.23" x2="491.52" y2="765.29" stroke="#222" stroke-width="0.9"/>
<rect x="397.08" y="800.16" width="2.16" height="2.16" rx="0.5" fill="#1c1a1a"/>
<rect x="402.32" y="802.9" width="2.16" height="2.16" rx="0.5" fill="#1c1a1a"/>
<rect x="407.56" y="801.65" width="2.16" height="2.16" rx="0.5" fill="#1c1a1a"/>
<rect x="410.06" y="798.66" width="2.16" height="2.16" rx="0.5" fill="#1c1a1a"/>
<rect x="410.06" y="802.15" width="2.16" height="2.16" rx="0.5" fill="#1c1a1a"/>
<rect x="415.05" y="799.41" width="2.16" height="2.16" rx="0.5" fill="#1c1a1a"/>
<rect x="417.54" y="794.66" width="2.16" height="2.16" rx="0.5" fill="#1c1a1a"/>
<rect x="417.54" y="803.15" width="2.16" height="2.16" rx="0.5" fill="#1c1a1a"/>
<rect x="430.28" y="788.42" width="2.16" height="2.16" rx="0.5" fill="#db1f2b"/>
<rect x="450.25" y="761.96" width="2.16" height="2.16" rx="0.5" fill="#db1f2b"/>
<rect x="453.49" y="784.93" width="2.16" height="2.16" rx="0.5" fill="#db1f2b"/>
<rect x="453.49" y="792.92" width="2.16" height="2.16" rx="0.5" fill="#db1f2b"/>
<rect x="453.49" y="800.9" width="2.16" height="2.16" rx="0.5" fill="#db1f2b"/>
<rect x="463.73" y="769.45" width="2.16" height="2.16" rx="0.5" fill="#db1f2b"/>
<rect x="463.73" y="790.42" width="2.16" height="2.16" rx="0.5" fill="#db1f2b"/>
<rect x="481.7" y="751.98" width="2.16" height="2.16" rx="0.5" fill="#db1f2b"/>
<line x1="549.8" y1="701.68" x2="549.8" y2="803.87" stroke="#222222" stroke-width="0.7"/>
<line x1="547.9" y1="803.5" x2="549.8" y2="803.5" stroke="#222222" stroke-width="0.7"/>
<text transform="translate(546.6 806.07) scale(0.9615 1)" font-size="9.36" text-anchor="end" fill="#1c1a1a">0.0</text>
<line x1="547.9" y1="783.4" x2="549.8" y2="783.4" stroke="#222222" stroke-width="0.7"/>
<text transform="translate(546.6 785.97) scale(0.9615 1)" font-size="9.36" text-anchor="end" fill="#1c1a1a">0.5</text>
<line x1="547.9" y1="763.2" x2="549.8" y2="763.2" stroke="#222222" stroke-width="0.7"/>
<text transform="translate(546.6 765.77) scale(0.9615 1)" font-size="9.36" text-anchor="end" fill="#1c1a1a">1.0</text>
<line x1="547.9" y1="742.6" x2="549.8" y2="742.6" stroke="#222222" stroke-width="0.7"/>
<text transform="translate(546.6 745.17) scale(0.9615 1)" font-size="9.36" text-anchor="end" fill="#1c1a1a">1.5</text>
<line x1="547.9" y1="722.3" x2="549.8" y2="722.3" stroke="#222222" stroke-width="0.7"/>
<text transform="translate(546.6 724.87) scale(0.9615 1)" font-size="9.36" text-anchor="end" fill="#1c1a1a">2.0</text>
<line x1="547.9" y1="702.1" x2="549.8" y2="702.1" stroke="#222222" stroke-width="0.7"/>
<text transform="translate(546.6 704.67) scale(0.9615 1)" font-size="9.36" text-anchor="end" fill="#1c1a1a">2.5</text>
<line x1="549.4" y1="803.47" x2="677.3" y2="803.47" stroke="#222222" stroke-width="0.7"/>
<line x1="549.8" y1="803.47" x2="549.8" y2="805.37" stroke="#222222" stroke-width="0.7"/>
<text transform="translate(549.8 814.34) scale(0.9615 1)" font-size="9.36" text-anchor="middle" fill="#1c1a1a">0.0</text>
<line x1="581.1" y1="803.47" x2="581.1" y2="805.37" stroke="#222222" stroke-width="0.7"/>
<text transform="translate(581.1 814.34) scale(0.9615 1)" font-size="9.36" text-anchor="middle" fill="#1c1a1a">0.1</text>
<line x1="613.3" y1="803.47" x2="613.3" y2="805.37" stroke="#222222" stroke-width="0.7"/>
<text transform="translate(613.3 814.34) scale(0.9615 1)" font-size="9.36" text-anchor="middle" fill="#1c1a1a">0.2</text>
<line x1="645" y1="803.47" x2="645" y2="805.37" stroke="#222222" stroke-width="0.7"/>
<text transform="translate(645 814.34) scale(0.9615 1)" font-size="9.36" text-anchor="middle" fill="#1c1a1a">0.3</text>
<line x1="676.9" y1="803.47" x2="676.9" y2="805.37" stroke="#222222" stroke-width="0.7"/>
<text transform="translate(676.9 814.34) scale(0.9615 1)" font-size="9.36" text-anchor="middle" fill="#1c1a1a">0.4</text>
<text transform="translate(612.87 824.11) scale(0.9615 1)" font-size="9.78" text-anchor="middle" fill="#1c1a1a">Frailty index</text>
<text transform="translate(528.39 753.98) rotate(-90) scale(0.9615 1)" font-size="9.69" text-anchor="middle" fill="#1c1a1a">TIMP4/MMP2 expression</text>
<text transform="translate(616.53 699.99) scale(0.9615 1)" font-size="18.93" text-anchor="middle" fill="#1c1a1a">LA</text>
<text transform="translate(556.95 717.34) scale(0.9615 1)" font-size="9.78" text-anchor="start" fill="#1c1a1a">R = 0.70</text>
<text transform="translate(556.95 728.84) scale(0.9615 1)" font-size="9.78" text-anchor="start" fill="#1c1a1a"><tspan font-style="italic">P</tspan> = 0.002</text>
<line x1="564.8" y1="804.8" x2="663.3" y2="762" stroke="#222" stroke-width="0.9"/>
<rect x="569.2" y="793.24" width="2.16" height="2.16" rx="0.5" fill="#1c1a1a"/>
<rect x="574.16" y="794.03" width="2.16" height="2.16" rx="0.5" fill="#1c1a1a"/>
<rect x="579.39" y="795.86" width="2.16" height="2.16" rx="0.5" fill="#1c1a1a"/>
<rect x="582" y="789.32" width="2.16" height="2.16" rx="0.5" fill="#1c1a1a"/>
<rect x="582" y="793.24" width="2.16" height="2.16" rx="0.5" fill="#1c1a1a"/>
<rect x="586.97" y="787.76" width="2.16" height="2.16" rx="0.5" fill="#1c1a1a"/>
<rect x="589.58" y="796.12" width="2.16" height="2.16" rx="0.5" fill="#1c1a1a"/>
<rect x="589.58" y="797.69" width="2.16" height="2.16" rx="0.5" fill="#1c1a1a"/>
<rect x="602.12" y="795.07" width="2.16" height="2.16" rx="0.5" fill="#db1f2b"/>
<rect x="621.98" y="775.47" width="2.16" height="2.16" rx="0.5" fill="#db1f2b"/>
<rect x="625.38" y="783.31" width="2.16" height="2.16" rx="0.5" fill="#db1f2b"/>
<rect x="625.38" y="787.49" width="2.16" height="2.16" rx="0.5" fill="#db1f2b"/>
<rect x="635.57" y="780.18" width="2.16" height="2.16" rx="0.5" fill="#db1f2b"/>
<rect x="635.57" y="784.62" width="2.16" height="2.16" rx="0.5" fill="#db1f2b"/>
<rect x="653.6" y="728.7" width="2.16" height="2.16" rx="0.5" fill="#db1f2b"/>
</svg>
</body></html>
